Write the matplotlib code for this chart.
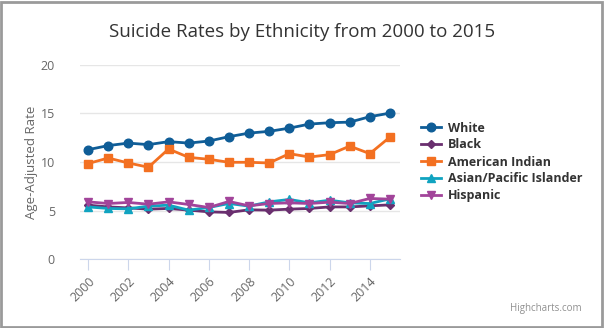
import matplotlib.pyplot as plt
from matplotlib.patches import Rectangle

years = list(range(2000, 2016))
white = [11.27, 11.69, 11.95, 11.79, 12.10, 11.95, 12.16, 12.61, 12.98, 13.16, 13.49, 13.91, 14.05, 14.11, 14.67, 15.04]
black = [5.55, 5.37, 5.27, 5.14, 5.21, 5.04, 4.86, 4.80, 5.07, 5.04, 5.14, 5.21, 5.37, 5.37, 5.48, 5.58]
amer_indian = [9.84, 10.41, 9.90, 9.46, 11.34, 10.48, 10.28, 9.97, 9.97, 9.90, 10.86, 10.51, 10.76, 11.64, 10.86, 12.57]
asian = [5.37, 5.21, 5.17, 5.45, 5.55, 5.04, 5.31, 5.72, 5.45, 5.89, 6.14, 5.79, 6.06, 5.79, 5.72, 6.20]
hispanic = [5.89, 5.72, 5.83, 5.65, 5.89, 5.62, 5.31, 5.93, 5.48, 5.72, 5.79, 5.72, 5.86, 5.72, 6.24, 6.17]

series = [
    ("White", white, "#0f5d97", "o", 6.2),
    ("Black", black, "#6a2f6f", "D", 4),
    ("American Indian", amer_indian, "#f37021", "s", 6),
    ("Asian/Pacific Islander", asian, "#10a3c0", "^", 6.2),
    ("Hispanic", hispanic, "#a2449a", "v", 6.2),
]

plt.rcParams['font.family'] = ['Open Sans', 'DejaVu Sans']

fig = plt.figure(figsize=(6.04, 3.28), dpi=100)
ax = fig.add_axes([80 / 604, 1 - 259 / 328, 320 / 604, 194 / 328])

for name, vals, col, mk, ms in series:
    ax.plot(years, vals, color=col, marker=mk, markersize=ms, linewidth=2, label=name)

ax.set_xlim(1999.6, 2015.5)
ax.set_ylim(0, 20)
ax.set_yticks([0, 5, 10, 15, 20])
ax.set_xticks(years[::2])
ax.set_xticklabels([str(y) for y in years[::2]], rotation=45, ha='right', rotation_mode='anchor')
ax.grid(axis='y', color='#e6e6e6', linewidth=1)
ax.set_axisbelow(True)
for s in ['top', 'right', 'left']:
    ax.spines[s].set_visible(False)
ax.spines['bottom'].set_color('#ccd6eb')
ax.tick_params(axis='x', colors='#ccd6eb', length=8, labelcolor='#666666', labelsize=9)
ax.tick_params(axis='y', length=0, labelcolor='#666666', labelsize=9, pad=18)
ax.set_ylabel("Age-Adjusted Rate", color='#666666', fontsize=9.5, labelpad=2)

fig.suptitle("Suicide Rates by Ethnicity from 2000 to 2015", x=0.5, y=0.93, fontsize=13.5, color='#333333')

leg = ax.legend(loc='center left', bbox_to_anchor=(1.03, 0.5), frameon=False,
                fontsize=9, handlelength=1.6, labelspacing=0.32, handletextpad=0.6)
for t in leg.get_texts():
    t.set_fontweight('bold')
    t.set_color('#333333')

fig.text(0.963, 0.06, "Highcharts.com", ha='right', va='center', fontsize=7, color='#909090')

fig.patches.append(Rectangle((0.002, 0.003), 0.994, 0.992, transform=fig.transFigure,
                             fill=False, edgecolor='#9a9a9a', linewidth=2))

fig.savefig("out.png", dpi=100)
